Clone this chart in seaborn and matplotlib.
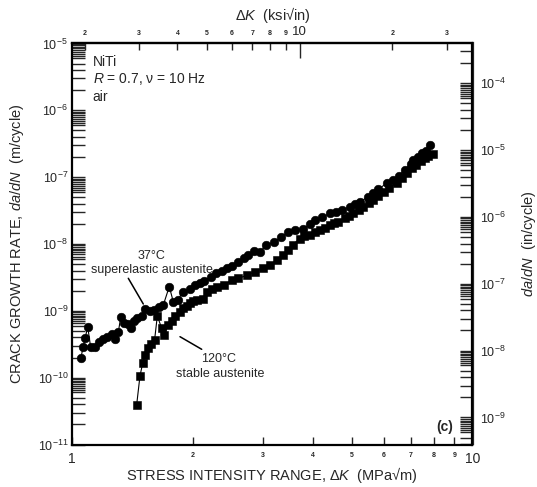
import numpy as np
import matplotlib
matplotlib.use("Agg")
import matplotlib.pyplot as plt
from matplotlib.lines import Line2D
from matplotlib.ticker import FixedLocator, LogFormatterSciNotation, NullFormatter
import seaborn as sns

# Fatigue-crack growth data for NiTi, R = 0.7, 10 Hz, air
dk_37 = [1.051, 1.065, 1.076, 1.093, 1.111, 1.139, 1.168, 1.195, 1.223, 1.254,
         1.279, 1.304, 1.321, 1.346, 1.380, 1.402, 1.426, 1.454, 1.491, 1.519,
         1.564, 1.600, 1.647, 1.688, 1.747, 1.788, 1.833, 1.887, 1.967, 2.024,
         2.083, 2.132, 2.216, 2.286, 2.361, 2.430, 2.510, 2.590, 2.687, 2.754,
         2.847, 2.944, 3.050, 3.190, 3.330, 3.460, 3.600, 3.780, 3.920, 4.040,
         4.200, 4.400, 4.550, 4.720, 4.940, 5.100, 5.240, 5.490, 5.650, 5.820,
         6.100, 6.340, 6.550, 6.770, 7.000, 7.110, 7.300, 7.460, 7.650, 7.830]
rate_37 = [2.0e-10, 2.9e-10, 3.9e-10, 5.7e-10, 2.9e-10, 2.9e-10, 3.45e-10, 3.75e-10, 4.1e-10, 4.5e-10,
           3.75e-10, 4.9e-10, 8.0e-10, 6.5e-10, 6.3e-10, 5.5e-10, 7.0e-10, 7.7e-10, 8.4e-10, 1.06e-9,
           1.0e-9, 1.02e-9, 1.15e-9, 1.22e-9, 2.3e-9, 1.37e-9, 1.45e-9, 1.9e-9, 2.15e-9, 2.43e-9,
           2.64e-9, 2.83e-9, 3.17e-9, 3.64e-9, 3.98e-9, 4.32e-9, 4.75e-9, 5.3e-9, 6.1e-9, 6.8e-9,
           7.9e-9, 7.6e-9, 9.6e-9, 1.08e-8, 1.26e-8, 1.5e-8, 1.62e-8, 1.66e-8, 2.0e-8, 2.29e-8,
           2.5e-8, 2.88e-8, 3.0e-8, 3.23e-8, 3.63e-8, 3.9e-8, 4.3e-8, 5.1e-8, 5.8e-8, 6.6e-8,
           8.1e-8, 9.1e-8, 1.05e-7, 1.28e-7, 1.6e-7, 1.81e-7, 2.0e-7, 2.28e-7, 2.5e-7, 3.03e-7]

dk_120 = [1.448, 1.476, 1.499, 1.523, 1.546, 1.574, 1.605, 1.631, 1.672, 1.695,
          1.738, 1.775, 1.810, 1.857, 1.893, 1.930, 1.967, 2.000, 2.046, 2.125,
          2.170, 2.230, 2.300, 2.400, 2.500, 2.600, 2.730, 2.860, 3.000, 3.120,
          3.240, 3.370, 3.460, 3.550, 3.700, 3.800, 3.930, 4.050, 4.150, 4.280,
          4.400, 4.520, 4.620, 4.800, 4.920, 5.040, 5.200, 5.330, 5.500, 5.650,
          5.820, 6.000, 6.200, 6.460, 6.650, 6.850, 7.050, 7.240, 7.450, 7.600,
          7.750, 7.950]
rate_120 = [3.9e-11, 1.06e-10, 1.64e-10, 2.2e-10, 2.8e-10, 3.2e-10, 3.6e-10, 8.4e-10, 5.5e-10, 4.4e-10,
            6.1e-10, 7.0e-10, 8.3e-10, 9.7e-10, 1.1e-9, 1.2e-9, 1.3e-9, 1.4e-9, 1.45e-9, 1.5e-9,
            1.9e-9, 2.1e-9, 2.25e-9, 2.43e-9, 2.9e-9, 3.06e-9, 3.4e-9, 3.85e-9, 4.3e-9, 4.8e-9,
            5.75e-9, 6.8e-9, 8.1e-9, 9.7e-9, 1.2e-8, 1.3e-8, 1.36e-8, 1.5e-8, 1.62e-8, 1.75e-8,
            1.92e-8, 2.05e-8, 2.15e-8, 2.42e-8, 2.6e-8, 2.88e-8, 3.25e-8, 3.63e-8, 4.1e-8, 4.57e-8,
            5.3e-8, 6.1e-8, 7.0e-8, 8.1e-8, 9.6e-8, 1.15e-7, 1.35e-7, 1.52e-7, 1.75e-7, 1.91e-7,
            2.05e-7, 2.25e-7]

# Tick labels
bottom_major = [1, 10]
bottom_minor = [2, 3, 4, 5, 6, 7, 8, 9]
top_major = [10]
top_minor = [2, 3, 4, 5, 6, 7, 8, 9, 20, 30]
top_minor_labels = ["2", "3", "4", "5", "6", "7", "8", "9", "2", "3"]
left_decades = [-11, -10, -9, -8, -7, -6, -5]
right_decades = [-9, -8, -7, -6, -5, -4]
y_subs = [2, 3, 4, 5, 6, 6.5, 7, 7.5, 8, 8.5, 9, 9.5]

M_TO_IN = 39.37
# top scale span over the MPa·m^0.5 decade 1..10
TOP_LO, TOP_HI = 1.821, 36.4
TOP_P = np.log10(TOP_HI / TOP_LO)

sns.set_theme(style="ticks")
plt.rcParams["font.family"] = ["Liberation Sans", "DejaVu Sans"]
plt.rcParams["mathtext.fontset"] = "custom"
plt.rcParams["mathtext.rm"] = "Liberation Sans"
plt.rcParams["mathtext.it"] = "Liberation Sans:italic"
plt.rcParams["mathtext.bf"] = "Liberation Sans:bold"
plt.rcParams["mathtext.default"] = "regular"

W, H = 537, 487
fig = plt.figure(figsize=(W / 100, H / 100), dpi=100)
x0, x1, y0, y1 = 72.3, 472.5, 43.5, 444.5
ax = fig.add_axes([x0 / W, 1 - y1 / H, (x1 - x0) / W, (y1 - y0) / H])


def fx(px):
    return px / W


def fy(py):
    return 1 - py / H


sns.lineplot(x=dk_37, y=rate_37, ax=ax, sort=False, estimator=None, color="black",
             marker="o", markersize=6.2, linewidth=0.8, markeredgecolor="black",
             markeredgewidth=0.4)
sns.lineplot(x=dk_120, y=rate_120, ax=ax, sort=False, estimator=None, color="black",
             marker="s", markersize=5.8, linewidth=0.8, markeredgecolor="black",
             markeredgewidth=0.4)

ax.set_xscale("log")
ax.set_yscale("log")
ax.set_xlim(1, 10)
ax.set_ylim(1e-11, 1e-5)
ax.set_xlabel("")
ax.set_ylabel("")


def decade_ticks(decades, lo, hi):
    major = [10.0 ** d for d in decades]
    minor = [s * 10.0 ** d for d in range(min(decades) - 1, max(decades) + 1)
             for s in y_subs if lo <= s * 10.0 ** d <= hi]
    return major, minor


# bottom axis
ax.set_xticks(bottom_major, labels=[str(v) for v in bottom_major], fontsize=10)
ax.set_xticks(bottom_minor, labels=[str(v) for v in bottom_minor], minor=True,
              fontsize=5, fontweight="bold")
ax.tick_params(axis="x", which="both", direction="in", length=5.5, width=1.0,
               pad=5.5, bottom=True, top=False)

# left axis
lmaj, lmin = decade_ticks(left_decades, 1e-11, 1e-5)
ax.yaxis.set_major_locator(FixedLocator(lmaj))
ax.yaxis.set_major_formatter(LogFormatterSciNotation())
ax.yaxis.set_minor_locator(FixedLocator(lmin))
ax.yaxis.set_minor_formatter(NullFormatter())
ax.tick_params(axis="y", which="both", direction="in", length=9.5, width=1.0,
               pad=3, labelsize=9, left=True, right=False)


def to_top(x):
    x = np.clip(np.asarray(x, dtype=float), 1e-30, None)
    return TOP_LO * x ** TOP_P


def from_top(k):
    k = np.clip(np.asarray(k, dtype=float), 1e-30, None)
    return (k / TOP_LO) ** (1.0 / TOP_P)


# top axis in ksi sqrt(in)
ax_top = ax.secondary_xaxis("top", functions=(to_top, from_top))
ax_top.set_xticks(top_major, labels=[str(v) for v in top_major], fontsize=9.5)
ax_top.set_xticks(top_minor, labels=top_minor_labels, minor=True, fontsize=5,
                  fontweight="bold")
ax_top.tick_params(axis="x", which="major", direction="in", length=11, width=1.0, pad=4)
ax_top.tick_params(axis="x", which="minor", direction="in", length=5, width=1.0, pad=5)

# right axis in in/cycle
ax_r = ax.secondary_yaxis("right", functions=(lambda y: y * M_TO_IN,
                                              lambda y: y / M_TO_IN))
rmaj, rmin = decade_ticks(right_decades, 1e-11 * M_TO_IN, 1e-5 * M_TO_IN)
ax_r.yaxis.set_major_locator(FixedLocator(rmaj))
ax_r.yaxis.set_major_formatter(LogFormatterSciNotation())
ax_r.yaxis.set_minor_locator(FixedLocator(rmin))
ax_r.yaxis.set_minor_formatter(NullFormatter())
ax_r.tick_params(axis="y", which="both", direction="in", length=9.5, width=1.0,
                 pad=5.5, labelsize=9)

for s in ax.spines.values():
    s.set_linewidth(1.6)
    s.set_color("black")
for a in (ax_top, ax_r):
    for s in a.spines.values():
        s.set_linewidth(1.6)

# axis titles
fig.text(fx(272.4), fy(475), "STRESS INTENSITY RANGE, Δ$\\mathit{K}$  (MPa√m)",
         ha="center", va="center", fontsize=10.5)
fig.text(fx(272.4), fy(15), "Δ$\\mathit{K}$  (ksi√in)", ha="center", va="center",
         fontsize=10.5)
fig.text(fx(17), fy(244), "CRACK GROWTH RATE, $\\mathit{da/dN}$  (m/cycle)",
         ha="center", va="center", rotation=90, fontsize=10.5)
fig.text(fx(529), fy(244), "$\\mathit{da/dN}$  (in/cycle)", ha="center", va="center",
         rotation=90, fontsize=10.5)

# test conditions
fig.text(fx(92.7), fy(66), "NiTi", ha="left", va="baseline", fontsize=10)
fig.text(fx(92.7), fy(83.3), "$\\mathit{R}$ = 0.7, ν = 10 Hz", ha="left",
         va="baseline", fontsize=10)
fig.text(fx(92.7), fy(100.7), "air", ha="left", va="baseline", fontsize=10)

# curve labels and leaders
fig.text(fx(151.7), fy(259), "37°C", ha="center", va="baseline", fontsize=9)
fig.text(fx(151.7), fy(273.3), "superelastic austenite", ha="center", va="baseline",
         fontsize=9)
fig.text(fx(218.3), fy(362.3), "120°C", ha="center", va="baseline", fontsize=9)
fig.text(fx(220), fy(377.3), "stable austenite", ha="center", va="baseline", fontsize=9)
fig.add_artist(Line2D([fx(128.3), fx(143.3)], [fy(278.3), fy(304)], color="black",
                      linewidth=1.1))
fig.add_artist(Line2D([fx(180), fx(201.7)], [fy(336.7), fy(349.3)], color="black",
                      linewidth=1.1))

fig.text(fx(445), fy(427), "(c)", ha="center", va="center", fontsize=10,
         fontweight="bold")

fig.savefig("out.png", dpi=100)
